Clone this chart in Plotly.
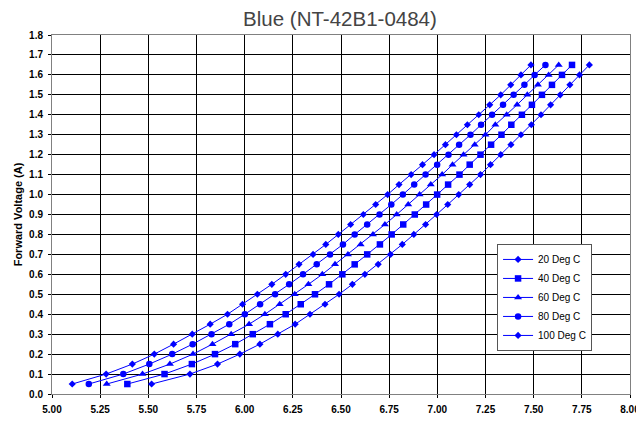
import plotly.graph_objects as go

current = [0.05, 0.10, 0.15, 0.20, 0.25, 0.30, 0.35, 0.40, 0.45, 0.50, 0.55, 0.60,
           0.65, 0.70, 0.75, 0.80, 0.85, 0.90, 0.95, 1.00, 1.05, 1.10, 1.15, 1.20,
           1.25, 1.30, 1.35, 1.40, 1.45, 1.50, 1.55, 1.60, 1.65]

v_20c = [5.517, 5.716, 5.859, 5.975, 6.079, 6.172, 6.262, 6.339, 6.417, 6.490, 6.559, 6.624,
         6.693, 6.757, 6.818, 6.878, 6.939, 6.996, 7.054, 7.111, 7.168, 7.224, 7.276, 7.329,
         7.382, 7.434, 7.488, 7.538, 7.588, 7.638, 7.688, 7.738, 7.789]
v_40c = [5.391, 5.584, 5.726, 5.846, 5.951, 6.042, 6.131, 6.213, 6.291, 6.365, 6.438, 6.507,
         6.571, 6.636, 6.702, 6.763, 6.823, 6.883, 6.942, 6.999, 7.056, 7.115, 7.168, 7.224,
         7.279, 7.333, 7.384, 7.439, 7.491, 7.543, 7.595, 7.647, 7.699]
v_60c = [5.284, 5.470, 5.612, 5.732, 5.833, 5.930, 6.023, 6.105, 6.182, 6.260, 6.331, 6.403,
         6.469, 6.536, 6.602, 6.666, 6.728, 6.789, 6.849, 6.908, 6.966, 7.025, 7.079, 7.136,
         7.194, 7.250, 7.301, 7.360, 7.414, 7.467, 7.522, 7.578, 7.630]
v_80c = [5.191, 5.370, 5.505, 5.624, 5.730, 5.828, 5.920, 6.001, 6.080, 6.158, 6.231, 6.303,
         6.374, 6.443, 6.510, 6.571, 6.636, 6.700, 6.761, 6.821, 6.880, 6.939, 6.999, 7.058,
         7.113, 7.172, 7.227, 7.284, 7.341, 7.396, 7.452, 7.505, 7.561]
v_100c = [5.105, 5.281, 5.417, 5.531, 5.631, 5.728, 5.821, 5.911, 5.989, 6.066, 6.141, 6.213,
          6.282, 6.355, 6.421, 6.486, 6.550, 6.616, 6.680, 6.742, 6.801, 6.864, 6.923, 6.983,
          7.042, 7.099, 7.156, 7.215, 7.272, 7.329, 7.381, 7.434, 7.486]

series_names = ["20 Deg C", "40 Deg C", "60 Deg C", "80 Deg C", "100 Deg C"]
series_values = [v_20c, v_40c, v_60c, v_80c, v_100c]
symbols = ["diamond", "square", "triangle-up", "circle", "diamond"]
sizes = [5.5, 6.5, 7, 6.5, 5.5]

x_ticks = [5.00 + 0.25 * i for i in range(13)]
y_ticks = [round(0.1 * i, 1) for i in range(19)]

fig = go.Figure()
for name, vals, sym, sz in zip(series_names, series_values, symbols, sizes):
    fig.add_trace(go.Scatter(
        x=vals, y=current, name=name, mode="lines+markers",
        line=dict(color="#0000FF", width=1),
        marker=dict(symbol=sym, size=sz, color="#0000FF"),
    ))

FONT = "Liberation Sans, Arial, sans-serif"
axis_font = dict(family=FONT, size=10, color="#000000")
fig.update_layout(
    width=644, height=421,
    margin=dict(l=44, r=22, t=27, b=35, autoexpand=False),
    paper_bgcolor="white", plot_bgcolor="white",
    title=dict(text="Blue (NT-42B1-0484)", x=0.5155, xanchor="center", y=0.974, yanchor="middle",
               font=dict(family=FONT, size=20.5, color="#444444")),
    font=dict(family=FONT),
    showlegend=True,
    legend=dict(x=0.77, y=0.418, xanchor="left", yanchor="top",
                bgcolor="white", bordercolor="#555555", borderwidth=1,
                font=dict(family=FONT, size=10, color="#000000"),
                itemwidth=30),
)
fig.update_xaxes(
    range=[5.0, 8.0], tickvals=x_ticks, ticktext=[f"<b>{t:.2f}</b>" for t in x_ticks],
    showgrid=True, gridcolor="#000000", gridwidth=1,
    showline=True, linecolor="#808080", linewidth=1, mirror=True,
    ticks="outside", ticklen=3, tickcolor="#000000", ticklabelstandoff=3,
    tickfont=axis_font, zeroline=False,
)
fig.update_yaxes(
    range=[0.0, 1.8], tickvals=y_ticks, ticktext=[f"<b>{t:.1f}</b>" for t in y_ticks],
    showgrid=True, gridcolor="#000000", gridwidth=1,
    showline=True, linecolor="#808080", linewidth=1, mirror=True,
    ticks="outside", ticklen=3, tickcolor="#000000", ticklabelstandoff=3,
    tickfont=axis_font, zeroline=False,
    title=dict(text="<b>Forward Voltage (A)</b>", standoff=4,
               font=dict(family=FONT, size=11, color="#000000")),
)

fig.write_html("out.html")
